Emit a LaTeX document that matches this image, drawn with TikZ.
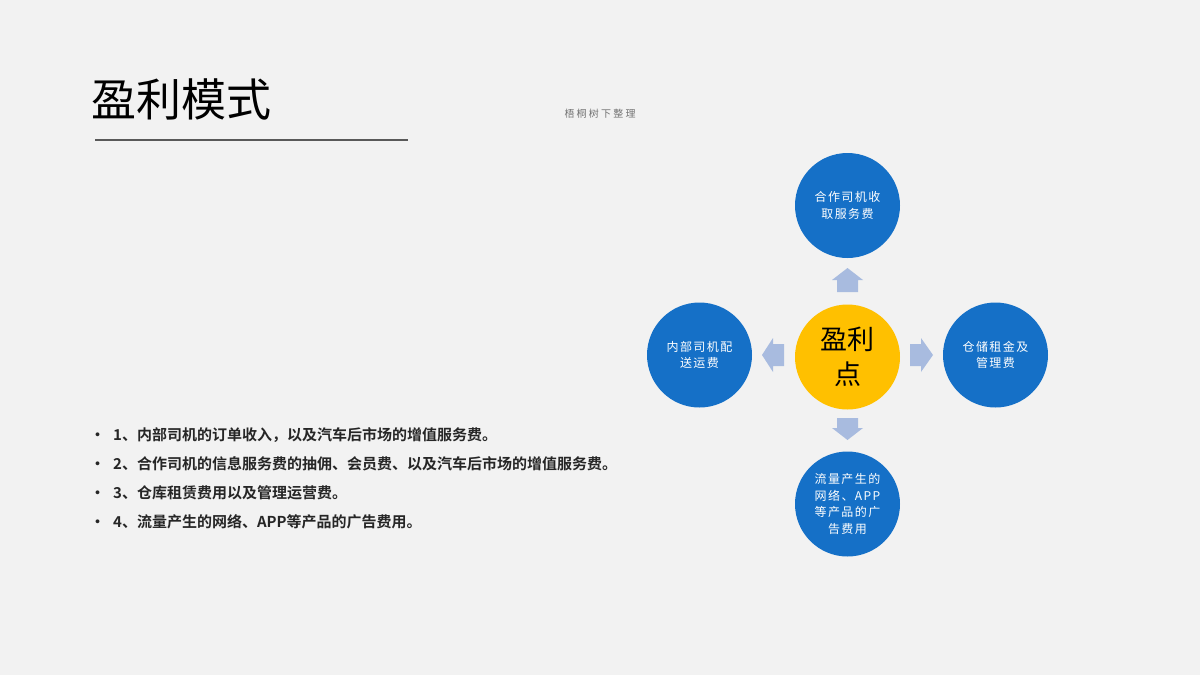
\documentclass[tikz,border=0pt]{standalone}
\usepackage{fontspec}
\setmainfont{Noto Sans CJK SC}
\newfontfamily\cjk{Noto Sans CJK SC}
\newfontfamily\cjks[LetterSpace=12]{Noto Sans CJK SC}
\newfontfamily\cjksm[LetterSpace=22]{Noto Sans CJK SC}
\newfontfamily\cjkb{Noto Sans CJK SC Bold}
\definecolor{bg}{HTML}{F2F2F2}
\definecolor{cblue}{HTML}{1570C7}
\definecolor{cyel}{HTML}{FFC000}
\definecolor{arr}{HTML}{A8BBDF}
\definecolor{rule}{HTML}{595959}
\tikzset{
  outer/.style={circle, fill=cblue, minimum size=105pt, inner sep=0pt, text=white, align=center, font=\cjks\fontsize{12}{16.5}\selectfont},
  hub/.style={circle, fill=cyel, minimum size=105pt, inner sep=0pt, text=black, align=center, font=\cjk\fontsize{27}{35}\selectfont},
  blockarrow/.style={fill=arr, draw=none},
  bullettext/.style={anchor=base west, inner sep=0pt, font=\cjkb\fontsize{15}{17}\selectfont, text=black!85},
}
\begin{document}
\begin{tikzpicture}[x=1pt,y=-1pt]
\useasboundingbox (0,0) rectangle (1200,675);
\fill[bg] (0,0) rectangle (1200,675);
% title
\node[anchor=base west, inner sep=0pt, font=\cjk\fontsize{45}{50}\selectfont] (title) at (91,116) {盈利模式};
\draw[rule, line width=2pt] (95,140) -- (408,140);
\node[anchor=base, inner sep=0pt, font=\cjksm\fontsize{10}{11}\selectfont, text=black!55] (credit) at (600,117) {梧桐树下整理};
% circles
\node[hub] (c) at (847.5,357) {盈利\\点};
\node[outer] (t) at (847.5,205.5) {合作司机收\\取服务费};
\node[outer] (l) at (699.5,355) {内部司机配\\送运费};
\node[outer] (r) at (995.5,355) {仓储租金及\\管理费};
\node[outer] (b) at (847.5,504) {流量产生的\\网络、APP\\等产品的广\\告费用};
% block arrows
\fill[blockarrow] (847.5,268) -- (863,280) -- (858,280) -- (858,292) -- (837,292) -- (837,280) -- (832,280) -- cycle;
\fill[blockarrow] (847.5,440) -- (863,428) -- (858,428) -- (858,418) -- (837,418) -- (837,428) -- (832,428) -- cycle;
\fill[blockarrow] (762,355) -- (773,338) -- (773,344) -- (784,344) -- (784,366) -- (773,366) -- (773,372) -- cycle;
\fill[blockarrow] (933,355) -- (921,338) -- (921,344) -- (910,344) -- (910,366) -- (921,366) -- (921,372) -- cycle;
% bullets
\foreach \y/\n in {440/1,469/2,498/3,527/4}{
  \node[bullettext] (dot\n) at (90,\y) {•};
}
\node[bullettext] (b1) at (113,440) {1、内部司机的订单收入，以及汽车后市场的增值服务费。};
\node[bullettext] (b2) at (113,469) {2、合作司机的信息服务费的抽佣、会员费、以及汽车后市场的增值服务费。};
\node[bullettext] (b3) at (113,498) {3、仓库租赁费用以及管理运营费。};
\node[bullettext] (b4) at (113,527) {4、流量产生的网络、APP等产品的广告费用。};
\end{tikzpicture}
\end{document}
